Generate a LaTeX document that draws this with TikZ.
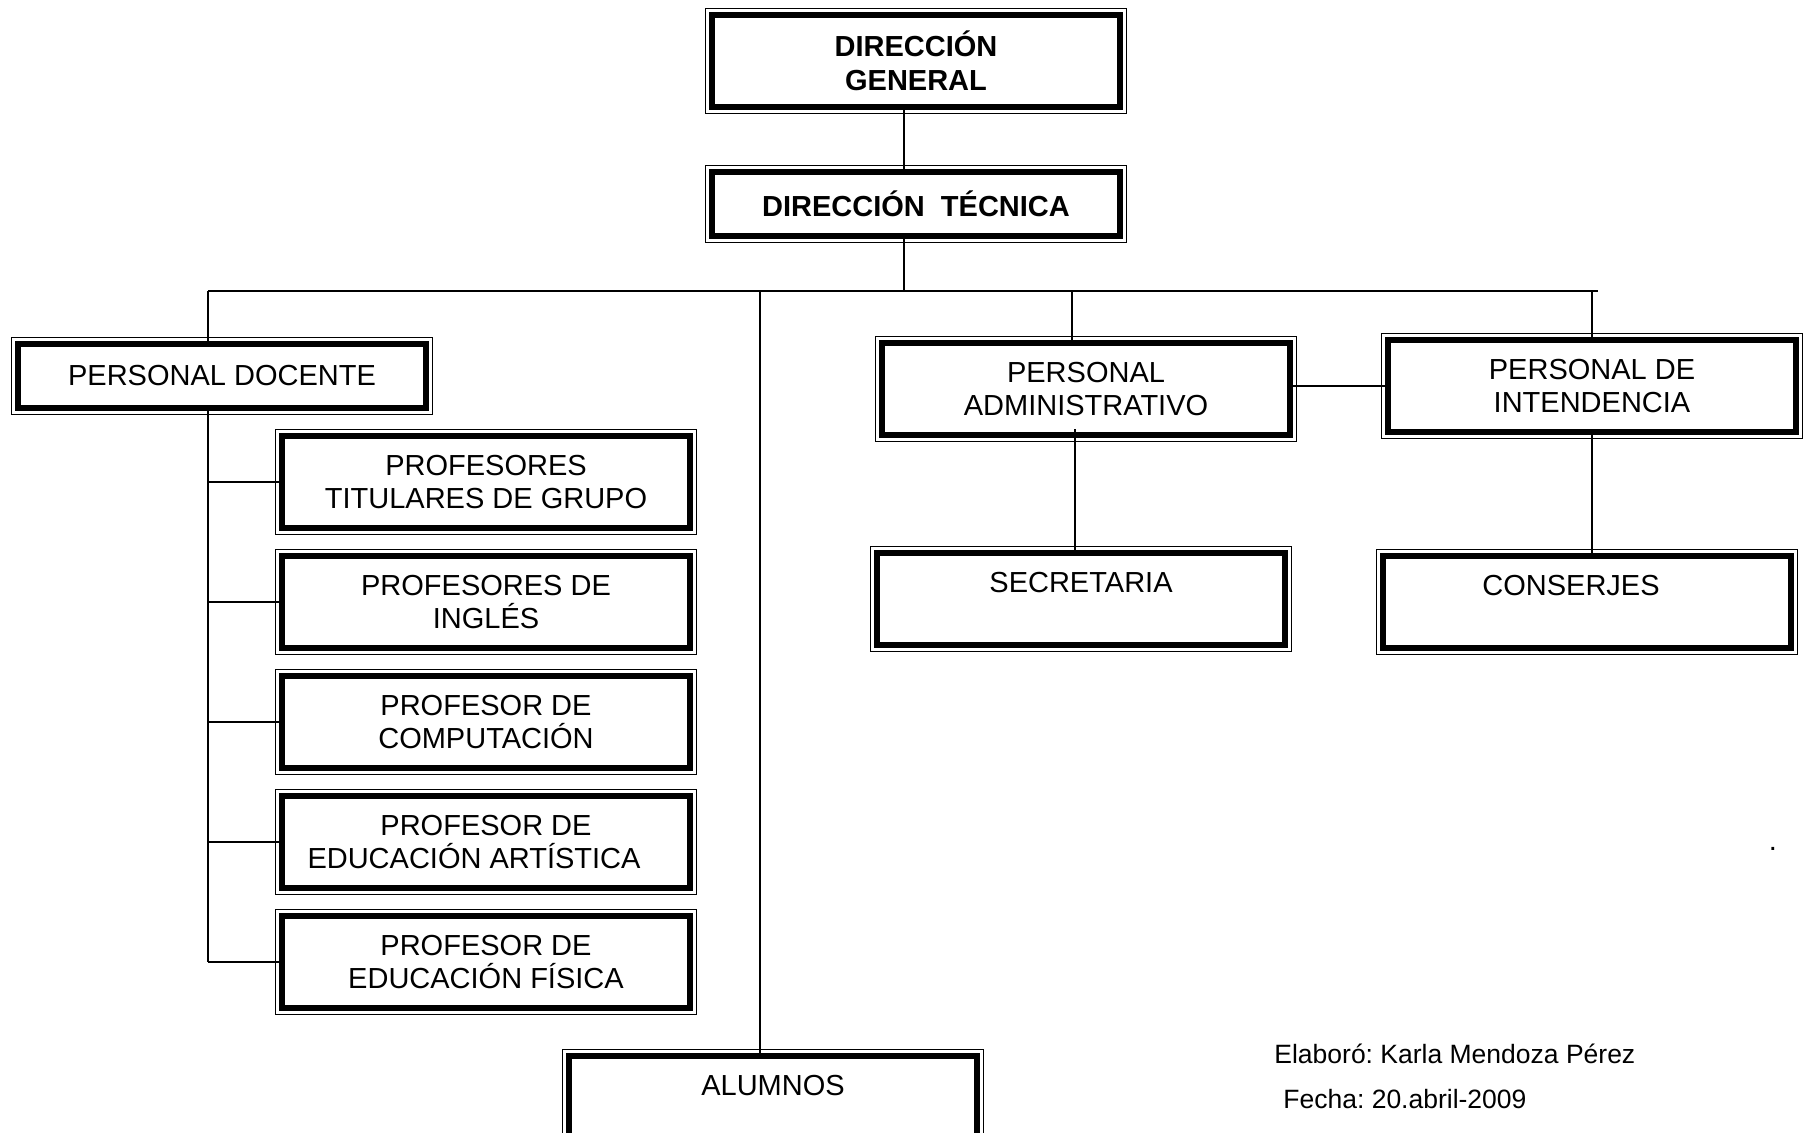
\documentclass[tikz,border=0pt]{standalone}
\usepackage{fontspec}
\setmainfont{Liberation Sans}
\frenchspacing

\begin{document}
\begin{tikzpicture}[x=0.5pt, y=-0.5pt,
	every node/.style={black, font=\fontsize{14.5}{16.8}\selectfont},
	cargo/.style={draw, line width=3.4pt, fill=white, align=center, inner sep=2pt,
		minimum width=204pt, minimum height=#1,
		append after command={\pgfextra{\draw[line width=0.8pt]
			([shift={(-1.5pt,1.5pt)}]\tikzlastnode.north west) rectangle
			([shift={(1.5pt,-1.5pt)}]\tikzlastnode.south east);}}},
	cargo/.default=46pt,
	linea/.style={line width=0.8pt}]
	\useasboundingbox (0,0) rectangle (1809,1132);

	\node[cargo, font=\fontsize{14.5}{16.8}\selectfont\bfseries] (DG) at (916,61) {DIRECCIÓN\\GENERAL};
	\node[cargo=32pt, font=\fontsize{14.5}{16.8}\selectfont\bfseries] (DT) at (916,204) {DIRECCIÓN~ TÉCNICA};

	\node[cargo=32pt] (PD) at (222,376) {PERSONAL DOCENTE};
	\node[cargo] (PT) at (486,482) {PROFESORES\\TITULARES DE GRUPO};
	\node[cargo] (PIN) at (486,602) {PROFESORES DE\\INGLÉS};
	\node[cargo] (PC) at (486,722) {PROFESOR DE\\COMPUTACIÓN};
	\node[cargo] (PEA) at (486,842) {PROFESOR DE\\EDUCACIÓN ARTÍSTICA\hspace*{12pt}};
	\node[cargo] (PEF) at (486,962) {PROFESOR DE\\EDUCACIÓN FÍSICA};
	\node[cargo] (ALU) at (773,1102) {ALUMNOS\\~};

	\node[cargo] (PA) at (1086,389) {PERSONAL\\ADMINISTRATIVO};
	\node[cargo] (PI) at (1592,386) {PERSONAL DE\\INTENDENCIA};
	\node[cargo] (SEC) at (1081,599) {SECRETARIA\\~};
	\node[cargo] (CON) at (1587,602) {CONSERJES\hspace*{16pt}\\~};

	\coordinate (busL) at (208,291);
	\coordinate (busR) at (1598,291);
	\coordinate (busA) at (760,291);
	\coordinate (busP) at (1072,291);

	\draw[linea] ([xshift=-6pt]DG.south) -- ([xshift=-6pt]DT.north);
	\draw[linea] ([xshift=-6pt]DT.south) -- ([xshift=-6pt]DT.south |- busL);
	\draw[linea] (busL) -- (busR);
	\draw[linea] (busL) -- (busL |- PD.north);
	\draw[linea] (busA) -- (busA |- ALU.north);
	\draw[linea] (busP) -- (busP |- PA.north);
	\draw[linea] (PI.north |- busR) -- (PI.north);
	\draw[linea] (busL |- PD.south) -- (busL |- PEF.west);
	\foreach \n in {PT,PIN,PC,PEA,PEF}
		\draw[linea] (busL |- \n.west) -- (\n.west);
	\draw[linea] (PI.west) -- (PI.west -| PA.east);
	\draw[linea] ([shift={(-5.5pt,4.5pt)}]PA.south) -- ([xshift=-3pt]SEC.north);
	\draw[linea] (PI.south) -- (PI.south |- CON.north);

	\node[inner sep=0pt] (punto) at (1773,849) {.};
	\node[anchor=base west, inner sep=0pt, font=\fontsize{13.25}{16}\selectfont] (elab) at (1274,1063) {Elaboró: Karla Mendoza Pérez};
	\node[anchor=base west, inner sep=0pt, font=\fontsize{13.25}{16}\selectfont] (fecha) at (1283,1108) {Fecha: 20.abril-2009};
\end{tikzpicture}
\end{document}
